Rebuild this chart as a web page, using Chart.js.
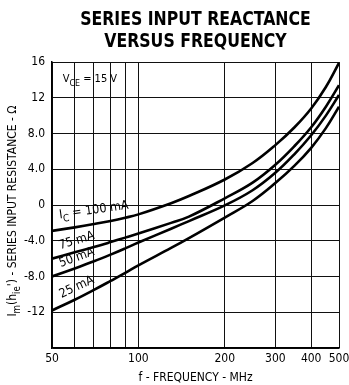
<!DOCTYPE html>
<html>
<head>
    <title>Series Input Reactance versus Frequency</title>
    <script src="https://cdn.jsdelivr.net/npm/chart.js"></script>
    <style>
        html, body { margin: 0; padding: 0; background: #fff; }
        .chart-container { width: 349px; height: 385px; position: relative; }
    </style>
</head>
<body>
    <div class="chart-container">
        <canvas id="reactanceChart"></canvas>
    </div>

    <script>
        // frequency points (MHz)
        const freqs = [50, 60, 70, 80, 90, 100, 130, 150, 200, 250, 300, 350, 400, 450, 500];

        // Im(hie') in ohms, one list per collector current
        const ic100 = [-2.9, -2.5, -2.13, -1.78, -1.42, -1.05, 0.2, 1.0, 2.85, 4.7, 6.7, 8.7, 10.8, 13.2, 15.9];
        const ic75  = [-6.0, -5.3, -4.7, -4.15, -3.65, -3.2, -2.0, -1.3, 0.75, 2.5, 4.5, 6.6, 8.7, 11.0, 13.4];
        const ic50  = [-8.0, -7.1, -6.3, -5.55, -4.85, -4.2, -2.65, -1.8, -0.05, 1.65, 3.6, 5.7, 7.8, 10.0, 12.3];
        const ic25  = [-11.8, -10.6, -9.5, -8.5, -7.6, -6.75, -4.8, -3.7, -1.4, 0.45, 2.45, 4.4, 6.4, 8.6, 11.0];

        // axis ticks
        const xGrid = [50, 60, 70, 80, 90, 100, 200, 300, 400, 500];
        const xLabels = { 50: '50', 100: '100', 200: '200', 300: '300', 400: '400', 500: '500' };
        const yLabels = { 16: '16', 12: '12', 8: '8.0', 4: '4.0', 0: '0', '-4': '-4.0', '-8': '-8.0', '-12': '-12', '-16': '' };

        const FONT = "'Liberation Sans Narrow', 'DejaVu Sans Condensed', 'Roboto Condensed', sans-serif";

        const series = [ic100, ic75, ic50, ic25];
        const datasets = series.map(vals => ({
            data: vals.map((v, i) => ({ x: freqs[i], y: v })),
            borderColor: '#000',
            borderWidth: 2.6,
            pointRadius: 0,
            fill: false,
            tension: 0.4
        }));

        // text drawn in the canvas: title, curve labels, axis titles
        const textPlugin = {
            id: 'textPlugin',
            afterDraw(chart) {
                const ctx = chart.ctx;
                const a = chart.chartArea;
                const xs = chart.scales.x, ys = chart.scales.y;
                ctx.save();
                ctx.fillStyle = '#000';

                // title
                const cx = (a.left + a.right) / 2;
                ctx.textAlign = 'center';
                ctx.textBaseline = 'alphabetic';
                ctx.font = "bold 19px 'DejaVu Sans Condensed', 'Liberation Sans Narrow', sans-serif";
                ctx.save();
                ctx.translate(cx, 0);
                ctx.scale(0.92, 1);
                ctx.fillText('SERIES INPUT REACTANCE', 0, 25);
                ctx.fillText('VERSUS FREQUENCY', 0, 47);
                ctx.restore();

                // helper: text with subscript pieces [[text, sub], ...]
                function richText(parts, x, y, size, align) {
                    let w = 0;
                    parts.forEach(p => {
                        ctx.font = (p[1] ? size * 0.8 : size) + 'px ' + FONT;
                        w += ctx.measureText(p[0]).width;
                    });
                    let cur = align === 'center' ? x - w / 2 : x;
                    ctx.textAlign = 'left';
                    parts.forEach(p => {
                        ctx.font = (p[1] ? size * 0.8 : size) + 'px ' + FONT;
                        ctx.fillText(p[0], cur, y + (p[1] ? size * 0.35 : 0));
                        cur += ctx.measureText(p[0]).width;
                    });
                }

                // V_CE = 15 V
                ctx.textBaseline = 'alphabetic';
                richText([['V', 0], ['CE', 1], [' = 15 V', 0]], xs.getPixelForValue(54.5), ys.getPixelForValue(13.8), 11, 'left');

                // curve labels
                const labels = [
                    { parts: [['I', 0], ['C', 1], [' = 100 mA', 0]], f: 70, v: -0.6, rot: -8 },
                    { parts: [['75 mA', 0]], f: 61, v: -4.0, rot: -17 },
                    { parts: [['50 mA', 0]], f: 61, v: -5.9, rot: -20 },
                    { parts: [['25 mA', 0]], f: 61, v: -9.2, rot: -25 }
                ];
                labels.forEach(l => {
                    ctx.save();
                    ctx.translate(xs.getPixelForValue(l.f), ys.getPixelForValue(l.v));
                    ctx.rotate(l.rot * Math.PI / 180);
                    ctx.textBaseline = 'middle';
                    richText(l.parts, 0, 0, 12.5, 'center');
                    ctx.restore();
                });

                // x axis title
                ctx.textBaseline = 'alphabetic';
                richText([['f - FREQUENCY - MHz', 0]], cx, 381, 12, 'center');

                // y axis title (rotated)
                ctx.save();
                ctx.translate(13, (a.top + a.bottom) / 2 + 6);
                ctx.rotate(-Math.PI / 2);
                ctx.textBaseline = 'middle';
                richText([['I', 0], ['m', 1], ['(h', 0], ['ie', 1], ["') - SERIES INPUT RESISTANCE - \u03A9", 0]], 0, 0, 12, 'center');
                ctx.restore();

                ctx.restore();
            }
        };

        const ctx = document.getElementById('reactanceChart').getContext('2d');
        new Chart(ctx, {
            type: 'line',
            data: { datasets: datasets },
            plugins: [textPlugin],
            options: {
                responsive: true,
                maintainAspectRatio: false,
                animation: false,
                layout: { padding: { left: 0, right: 0, top: 62, bottom: 0 } },
                plugins: {
                    legend: { display: false },
                    title: { display: false },
                    tooltip: { enabled: false }
                },
                scales: {
                    x: {
                        type: 'logarithmic',
                        min: 50,
                        max: 500,
                        afterBuildTicks: axis => { axis.ticks = xGrid.map(v => ({ value: v })); },
                        afterFit: axis => { axis.height = 37; axis.paddingRight = 10; axis.paddingLeft = 0; },
                        ticks: {
                            autoSkip: false,
                            maxRotation: 0,
                            color: '#000',
                            padding: 4,
                            font: { family: FONT, size: 12 },
                            callback: v => xLabels[v] || ''
                        },
                        grid: { color: '#111', lineWidth: 1, drawTicks: false },
                        border: { color: '#000', width: 1.5 }
                    },
                    y: {
                        min: -16,
                        max: 16,
                        afterFit: axis => { axis.width = 52; },
                        ticks: {
                            stepSize: 4,
                            color: '#000',
                            padding: 7,
                            font: { family: FONT, size: 12 },
                            callback: v => yLabels[v] !== undefined ? yLabels[v] : ''
                        },
                        grid: { color: '#111', lineWidth: 1, drawTicks: false },
                        border: { color: '#000', width: 1.5 }
                    }
                }
            }
        });
    </script>
</body>
</html>
